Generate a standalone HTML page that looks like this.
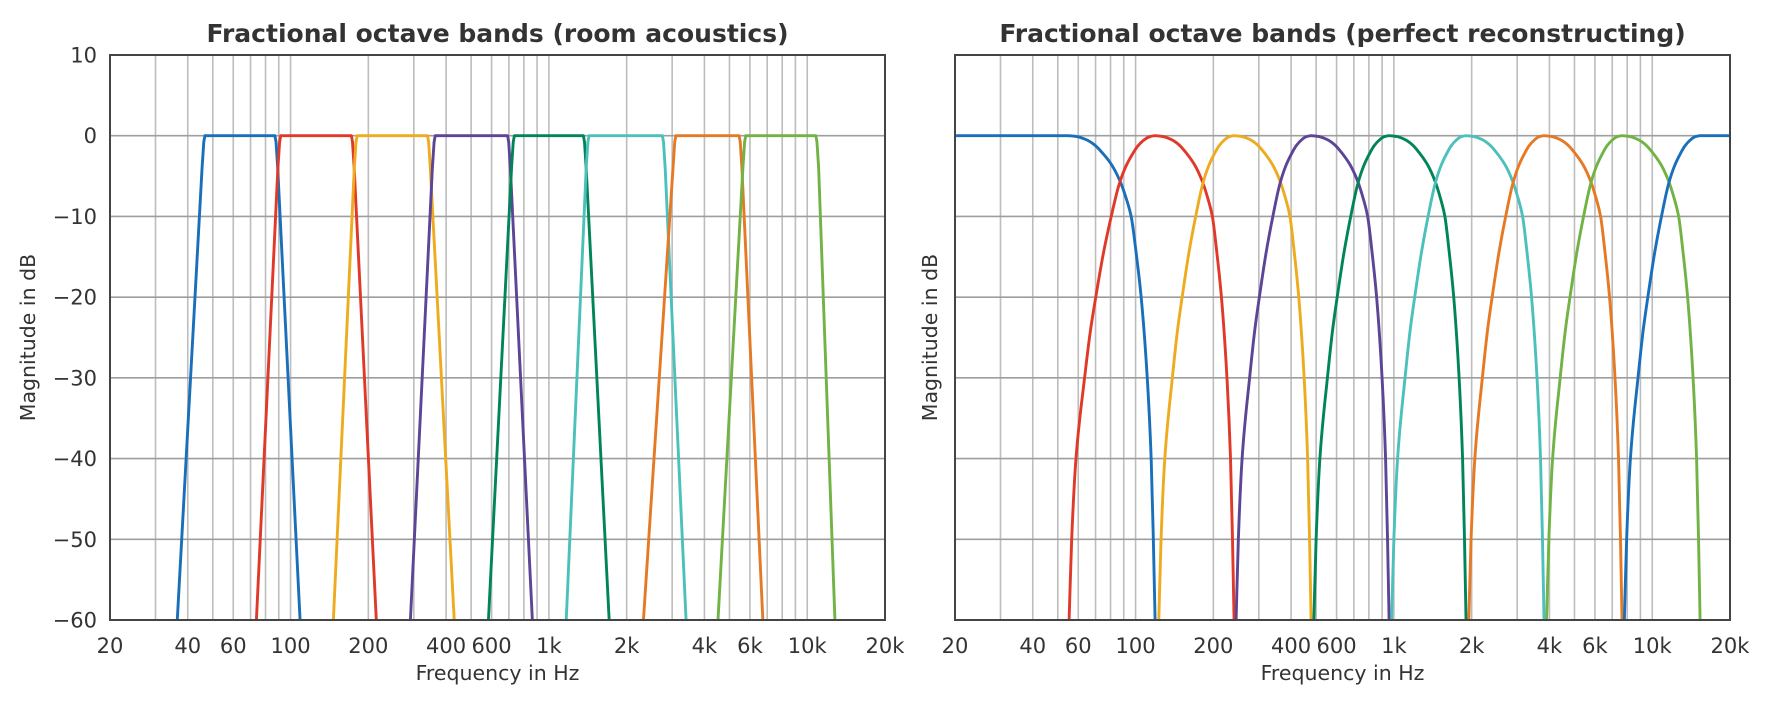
<!DOCTYPE html>
<html><head><meta charset="utf-8">
<style>
html,body{margin:0;padding:0;background:#fff;}
svg{display:block;font-family:"DejaVu Sans","Liberation Sans",sans-serif;}
</style></head>
<body>
<svg id="chart" width="1771" height="708" viewBox="0 0 1771 708" xmlns="http://www.w3.org/2000/svg">
<defs>
<clipPath id="clipL"><rect x="110" y="55" width="775" height="565"/></clipPath>
<clipPath id="clipR"><rect x="955" y="55" width="775" height="565"/></clipPath>
</defs>
</svg>
<script>
// ---- data ----
const xTickValues = [20,40,60,100,200,400,600,1000,2000,4000,6000,10000,20000];
const xTickLabels = ["20","40","60","100","200","400","600","1k","2k","4k","6k","10k","20k"];
const yTickValues = [10,0,-10,-20,-30,-40,-50,-60];
const yTickLabels = ["10","0","\u221210","\u221220","\u221230","\u221240","\u221250","\u221260"];
const bandColors = ["#1a6fbb","#e0392a","#efab1f","#5d4596","#00855a","#4cc0bc","#e67a24","#72b345"];
// left: room acoustics octave bands
const roomLowStop  = [36, 73, 145, 288, 577, 1156, 2290, 4460];
const roomLowEdge  = [46.6, 91.6, 181, 363, 735, 1430, 3100, 5780];
const roomHighEdge = [87, 172, 339, 692, 1360, 2750, 5450, 10800];
const roomHighStop = [110, 217, 435, 872, 1730, 3430, 6800, 12900];
// right: perfect reconstruction peaks / rise-start frequencies
const prPeaks = [54.8, 119, 240.6, 478, 958, 1902, 3812, 7640, 15320];
const prRiseStart = [null, 55.3, 123, 245, 490, 980, 1950, 3900, 7800];
const prColors = ["#1a6fbb","#e0392a","#efab1f","#5d4596","#00855a","#4cc0bc","#e67a24","#72b345","#1a6fbb"];
// slope profiles
const riseT  = [0, 0.03, 0.08, 0.18, 0.25, 0.31, 0.4, 0.49, 0.58, 0.66, 0.73, 0.8, 0.87, 0.93, 1];
const riseDb = [-60, -50, -40, -30, -24, -20, -14.5, -10, -6.1, -3.8, -2.4, -1.26, -0.54, -0.15, 0];
const fallT  = [0, 0.1, 0.2, 0.3, 0.4, 0.5, 0.6, 0.66, 0.725, 0.78, 0.84, 0.91, 0.955, 0.98, 1];
const fallDb = [0, -0.1, -0.45, -1.1, -2.2, -3.6, -5.7, -7.5, -10, -14.3, -20, -30, -40, -50, -60];

// ---- layout ----
const NS="http://www.w3.org/2000/svg";
const svg=document.getElementById('chart');
const Y0=55, Y1=620, DBMAX=10, DBMIN=-60;
const panels=[{x0:110,x1:885,title:"Fractional octave bands (room acoustics)",ticks:true,clip:"clipL",name:"room-acoustics"},
              {x0:955,x1:1730,title:"Fractional octave bands (perfect reconstructing)",ticks:false,clip:"clipR",name:"perfect-reconstructing"}];
function mk(tag,attrs,parent){const e=document.createElementNS(NS,tag);for(const k in attrs)e.setAttribute(k,attrs[k]);(parent||svg).appendChild(e);return e;}
function yS(db){return Y0+(DBMAX-db)*(Y1-Y0)/(DBMAX-DBMIN);}
function xS(p,f){return p.x0+(Math.log10(f)-Math.log10(20))/3*(p.x1-p.x0);}
function monotone(P){
  const n=P.length, dx=[], m=[], t=[];
  for(let i=0;i<n-1;i++){dx[i]=P[i+1][0]-P[i][0];m[i]=(P[i+1][1]-P[i][1])/dx[i];}
  t[0]=m[0];t[n-1]=m[n-2];
  for(let i=1;i<n-1;i++){
    if(m[i-1]*m[i]<=0)t[i]=0;
    else{const w1=2*dx[i]+dx[i-1],w2=dx[i]+2*dx[i-1];t[i]=(w1+w2)/(w1/m[i-1]+w2/m[i]);}
  }
  let d='M'+P[0][0].toFixed(2)+','+P[0][1].toFixed(2);
  for(let i=0;i<n-1;i++){const h=dx[i]/3;
    d+='C'+(P[i][0]+h).toFixed(2)+','+(P[i][1]+t[i]*h).toFixed(2)+' '+(P[i+1][0]-h).toFixed(2)+','+(P[i+1][1]-t[i+1]*h).toFixed(2)+' '+P[i+1][0].toFixed(2)+','+P[i+1][1].toFixed(2);}
  return d;
}

panels.forEach((p,pi)=>{
  const g=mk('g',{});
  
  
  const gv=mk('g',{},g);
  
  
  for(let d=10;d<=10000;d*=10){for(let m=1;m<=9;m++){const f=d*m;if(f<=20||f>=20000)continue;
    const x=xS(p,f);
    const l=mk('line',{x1:x,x2:x,y1:Y0,y2:Y1,stroke:"#bdbdbd","stroke-width":1.6},gv);
    
    }}
  const gh=mk('g',{},g);
  
  
  yTickValues.forEach(v=>{const y=yS(v);
    const l=mk('line',{x1:p.x0,x2:p.x1,y1:y,y2:y,stroke:"#9e9e9e","stroke-width":1.6},gh);
    
    });
  const cg=mk('g',{"clip-path":"url(#"+p.clip+")",fill:"none","stroke-width":2.9,"stroke-linejoin":"round","stroke-linecap":"round"},g);
  
  
  if(pi===0){
    roomLowStop.forEach((_,i)=>{
      const pts=[[roomLowStop[i],DBMIN-3],[roomLowEdge[i]*0.975,-4],[roomLowEdge[i]*0.99,-0.8],[roomLowEdge[i],0],[roomHighEdge[i],0],[roomHighEdge[i]*1.01,-0.8],[roomHighEdge[i]*1.025,-4],[roomHighStop[i],DBMIN-3]];
      const d=pts.map((q,k)=>(k?'L':'M')+xS(p,q[0]).toFixed(2)+','+yS(q[1]).toFixed(2)).join('');
      const path=mk('path',{d:d,stroke:bandColors[i]},cg);
      
      
    });
  } else {
    const n=prPeaks.length;
    for(let i=0;i<n;i++){
      const pts=[];
      const seg=(a,b,T,D)=>{const la=Math.log10(a),lb=Math.log10(b);T.forEach((t,k)=>pts.push([Math.pow(10,la+t*(lb-la)),D[k]]));};
      if(i===0){pts.push([20,0]);seg(prPeaks[0],prPeaks[1],fallT,fallDb);}
      else if(i===n-1){seg(prRiseStart[i],prPeaks[i],riseT,riseDb);pts.push([20000,0]);}
      else{seg(prRiseStart[i],prPeaks[i],riseT,riseDb);pts.pop();seg(prPeaks[i],prPeaks[i+1],fallT,fallDb);}
      const P=pts.map(q=>[xS(p,q[0]),yS(q[1])]);
      const path=mk('path',{d:monotone(P),stroke:prColors[i]},cg);
      
      
    }
  }
  const sp=mk('rect',{x:p.x0,y:Y0,width:p.x1-p.x0,height:Y1-Y0,fill:"none",stroke:"#444","stroke-width":2},g);
  
  
  xTickValues.forEach((v,k)=>{const t=mk('text',{x:xS(p,v),y:653,"text-anchor":"middle","font-size":21,fill:"#333"},g);t.textContent=xTickLabels[k];
    
    });
  if(p.ticks){yTickValues.forEach((v,k)=>{const t=mk('text',{x:p.x0-13,y:yS(v)+7.5,"text-anchor":"end","font-size":21,fill:"#333"},g);t.textContent=yTickLabels[k];
    
    });}
  const xl=mk('text',{x:(p.x0+p.x1)/2,y:680,"text-anchor":"middle","font-size":20.5,fill:"#333"},g);xl.textContent="Frequency in Hz";
  
  
  const yx=p.x0-75+(p.ticks?0:57);
  const yl=mk('text',{x:yx,y:(Y0+Y1)/2,"text-anchor":"middle","font-size":20.5,fill:"#333",transform:"rotate(-90 "+yx+" "+(Y0+Y1)/2+")"},g);yl.textContent="Magnitude in dB";
  
  
  const tt=mk('text',{x:(p.x0+p.x1)/2,y:42,"text-anchor":"middle","font-size":25,"font-weight":"bold",fill:"#333"},g);tt.textContent=p.title;
  
  
});
</script>
</body></html>
